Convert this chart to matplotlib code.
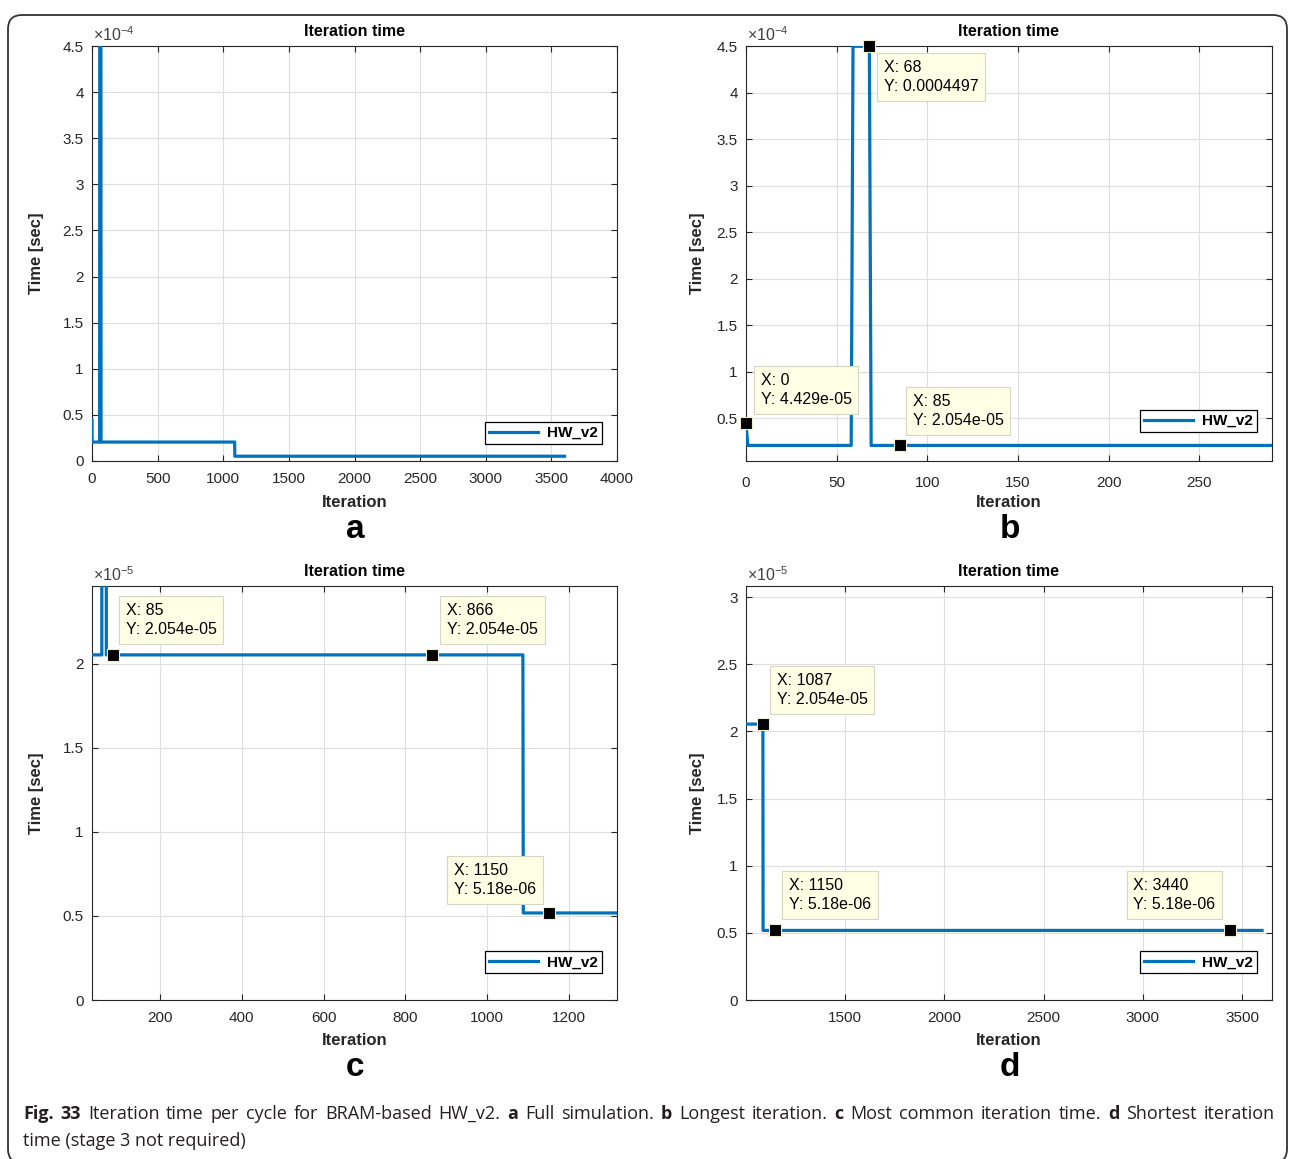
import numpy as np
import matplotlib
matplotlib.use('Agg')
import matplotlib.pyplot as plt
from matplotlib.ticker import MultipleLocator, FuncFormatter
from matplotlib.patches import FancyBboxPatch
from matplotlib.transforms import IdentityTransform

plt.rcParams['font.family'] = ['Liberation Sans', 'DejaVu Sans']
plt.rcParams['mathtext.fontset'] = 'custom'
plt.rcParams['mathtext.rm'] = 'Liberation Sans'
plt.rcParams['mathtext.it'] = 'Liberation Sans'

# iteration time of HW_v2 (step breakpoints of the recorded trace)
iteration = [0, 1, 58, 59, 68, 69, 1087, 1088, 3600]
iter_time = [4.429e-05, 2.054e-05, 2.054e-05, 4.497e-04, 4.497e-04,
             2.054e-05, 2.054e-05, 5.18e-06, 5.18e-06]

# data tips shown on each panel (iteration values)
tips_b = [68, 0, 85]
tips_c = [85, 866, 1150]
tips_d = [1087, 1150, 3440]

W, H = 1290, 1159
BLUE = '#0072BD'
DARK = '#262626'

fig = plt.figure(figsize=(W / 100, H / 100), dpi=100)


def px_axes(x0, y0, x1, y1):
    return fig.add_axes([x0 / W, 1 - y1 / H, (x1 - x0) / W, (y1 - y0) / H])


def style(ax, scale, exp, xstep, ystep):
    ax.plot(iteration, iter_time, color=BLUE, lw=2.3, label='HW_v2', zorder=3)
    ax.set_title('Iteration time', fontweight='bold', fontsize=11.5, pad=7, color='k')
    ax.xaxis.set_major_locator(MultipleLocator(xstep))
    ax.yaxis.set_major_locator(MultipleLocator(ystep))
    ax.yaxis.set_major_formatter(FuncFormatter(lambda v, p: f'{round(v / scale, 6):g}'))
    ax.grid(True, color='#dedede', lw=0.8)
    ax.set_axisbelow(True)
    ax.tick_params(direction='in', length=4, width=0.8, top=True, right=True,
                   labelsize=11, colors=DARK)
    ax.tick_params(axis='x', pad=8)
    ax.tick_params(axis='y', pad=6)
    for s in ax.spines.values():
        s.set_color(DARK)
        s.set_linewidth(0.8)
    ax.set_xlabel('Iteration', fontweight='bold', fontsize=12, color=DARK)
    ax.set_ylabel('Time [sec]', fontweight='bold', fontsize=12, color=DARK)
    ax.xaxis.set_label_coords(0.5, -0.099)
    ax.xaxis.label.set_va('center')
    ax.yaxis.set_label_coords(-0.106, 0.5)
    ax.yaxis.label.set_va('center')
    ax.text(0.002, 1.006, r'$\times10^{%d}$' % exp, transform=ax.transAxes,
            ha='left', va='bottom', fontsize=11.5, color='#404040')


def legend(ax, bottom):
    leg = ax.legend(loc='lower right', bbox_to_anchor=(0.9714, bottom),
                    borderaxespad=0, fancybox=False, framealpha=1, edgecolor='k',
                    borderpad=0.25, handlelength=3.2, handletextpad=0.6,
                    prop={'weight': 'bold', 'size': 11})
    leg.get_frame().set_linewidth(0.9)


TIPSIZE = 11.5
PADPX = 0.42 * TIPSIZE * 100 / 72


def datatips(ax, xs, offsets):
    for x, (side, dx, dy) in zip(xs, offsets):
        y = float(np.interp(x, iteration, iter_time))
        ax.plot([x], [y], 's', ms=8.5, mfc='k', mec='#efefcf', mew=0.8,
                clip_on=False, zorder=6)
        label = f'X: {x}\nY: {y:.4g}'
        if side == 'left':
            pos, ha = (dx + PADPX, dy - PADPX), 'left'
        else:
            pos, ha = (dx - PADPX, dy - PADPX), 'right'
        ax.annotate(label, xy=(x, y), xytext=pos, textcoords='offset pixels',
                    ha=ha, va='top', multialignment='left', fontsize=TIPSIZE,
                    linespacing=1.35, color='k',
                    bbox=dict(boxstyle='square,pad=0.42', fc='#ffffe6',
                              ec='#d6d6c2', lw=0.8),
                    annotation_clip=False, zorder=7)


# a: full simulation
ax_a = px_axes(92, 46, 617, 461)
style(ax_a, 1e-4, -4, 500, 0.5e-4)
ax_a.set_xlim(0, 4000)
ax_a.set_ylim(0, 4.5e-4)
legend(ax_a, 0.041)

# b: longest iteration
ax_b = px_axes(746, 46, 1272, 461)
style(ax_b, 1e-4, -4, 50, 0.5e-4)
ax_b.set_xlim(0, 290)
ax_b.set_ylim(0.038e-4, 4.5e-4)
ax_b.tick_params(axis='x', pad=11)
ax_b.yaxis.set_label_coords(-0.093, 0.5)
legend(ax_b, 0.07)
datatips(ax_b, tips_b, [('left', 8, -7), ('left', 8, 57), ('left', 6, 58)])

# c: most common iteration time
ax_c = px_axes(92, 586, 617, 1000)
style(ax_c, 1e-5, -5, 200, 0.5e-5)
ax_c.set_xlim(34, 1317)
ax_c.set_ylim(0, 2.464e-5)
legend(ax_c, 0.065)
datatips(ax_c, tips_c, [('left', 6, 59), ('left', 8, 59), ('right', -6, 57)])

# d: shortest iteration time
ax_d = px_axes(746, 586, 1272, 1000)
style(ax_d, 1e-5, -5, 500, 0.5e-5)
ax_d.set_xlim(1002, 3650)
ax_d.set_ylim(0, 3.082e-5)
ax_d.yaxis.set_label_coords(-0.093, 0.5)
legend(ax_d, 0.065)
datatips(ax_d, tips_d, [('left', 7, 58), ('left', 7, 59), ('right', -8, 59)])

# panel letters
for letter, (x, y) in zip('abcd', [(355, 530), (1010, 530), (355, 1068), (1010, 1068)]):
    fig.text(x / W, 1 - y / H, letter, ha='center', va='center',
             fontsize=24, fontweight='bold', color='k')

# rounded frame around the figure
frame = FancyBboxPatch((8, -4), 1279, H - 11, boxstyle='round,pad=0,rounding_size=14',
                       transform=IdentityTransform(), fc='none', ec='#333333', lw=1.3)
fig.patches.append(frame)

# caption, first line justified to the frame width
cap_font = ['Liberation Sans Narrow', 'Open Sans', 'DejaVu Sans']
cap_color = '#231f20'
line1 = [('Fig. 33', 'bold'), ('Iteration time per cycle for BRAM-based HW_v2.', 'normal'),
         ('a', 'bold'), ('Full simulation.', 'normal'), ('b', 'bold'),
         ('Longest iteration.', 'normal'), ('c', 'bold'),
         ('Most common iteration time.', 'normal'), ('d', 'bold'),
         ('Shortest iteration', 'normal')]
line2 = 'time (stage 3 not required)'

words = []
for text, weight in line1:
    for w in text.split(' '):
        words.append((w, weight))

renderer = fig.canvas.get_renderer()
x_left, x_right = 23, 1275
y1 = 1 - 1114 / H
arts = []
for w, weight in words:
    t = fig.text(0, y1, w, fontsize=13, fontweight=weight, family=cap_font,
                 color=cap_color, va='center', ha='left')
    arts.append(t)
widths = [t.get_window_extent(renderer).width for t in arts]
gap = (x_right - x_left - sum(widths)) / (len(arts) - 1)
x = x_left
for t, wd in zip(arts, widths):
    t.set_x(x / W)
    x += wd + gap
fig.text(x_left / W, 1 - 1141 / H, line2, fontsize=13, family=cap_font,
         color=cap_color, va='center', ha='left')

fig.savefig('out.png', dpi=100)
